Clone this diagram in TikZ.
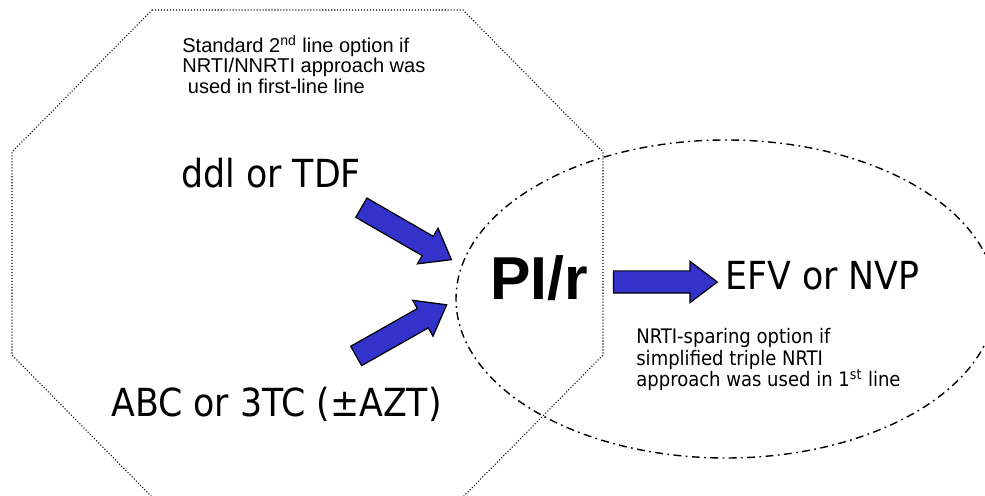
\documentclass[tikz,border=0pt]{standalone}
\usepackage{fontspec}
\usepackage{xcolor}
\usepackage{tikz}
\usetikzlibrary{shapes.arrows}
\setmainfont{Liberation Sans}
\newfontfamily\tahoma{DejaVu Sans Condensed}
\definecolor{arrblue}{HTML}{3333CC}
\tikzset{
  octline/.style={draw=black, line width=0.6pt, dash pattern=on 0.6pt off 1.1pt},
  ovalline/.style={draw=black, line width=0.8pt, dash pattern=on 4.5pt off 2.5pt on 1pt off 2.5pt},
  fatarr/.style={single arrow, draw=black, fill=arrblue, line width=0.7pt, line join=miter,
    minimum height=2.08cm, text height=0.21cm, text depth=0.21cm, text width=0pt,
    single arrow head extend=0.19cm, single arrow tip angle=74, inner sep=0pt},
  big/.style={font=\tahoma\fontsize{22}{26}\selectfont, inner sep=0pt},
  bigb/.style={font=\bfseries\fontsize{34.5}{40}\selectfont, inner sep=0pt},
  noteA/.style={font=\fontsize{11.4}{10.6}\selectfont, align=left, inner sep=0pt},
  noteT/.style={font=\tahoma\fontsize{11.4}{12.2}\selectfont, align=left, inner sep=0pt}
}

\begin{document}
\begin{tikzpicture}[x=0.02cm,y=-0.02cm]
  \useasboundingbox (0,0) rectangle (985,496);
  \clip (0,0) rectangle (985,496);
  % outlines
  \draw[octline] (152,10) -- (463,10) -- (603,152) -- (603,355) -- (463,497)
    -- (152,497) -- (12,355) -- (12,152) -- cycle;
  \draw[ovalline] (726,299) ellipse [x radius=270, y radius=159];

  % texts
  \node[noteA, anchor=north west] (stdnote) at (182,35)
    {Standard 2\textsuperscript{nd} line option if\\NRTI/NNRTI approach was\\\ used in first-line line};
  \node[big, anchor=base west] (ddl) at (181,188) {ddl or TDF};
  \node[big, anchor=base west] (abc) at (111,417) {ABC or 3TC (±AZT)};
  \node[bigb, anchor=base west] (pir) at (490,300) {PI/r};
  \node[big, anchor=base west] (efv) at (725,290) {EFV or NVP};
  \node[noteT, anchor=north west] (sparenote) at (636,328)
    {NRTI-sparing option if\\simplified triple NRTI\\approach was used in 1\textsuperscript{st} line};

  % block arrows
  \node[fatarr, rotate=-30] (arrddl) at (400,230) {};
  \node[fatarr, rotate=29.5] (arrabc) at (395,334) {};
  \node[fatarr] (arrpir) at (658,282) {};
\end{tikzpicture}
\end{document}
